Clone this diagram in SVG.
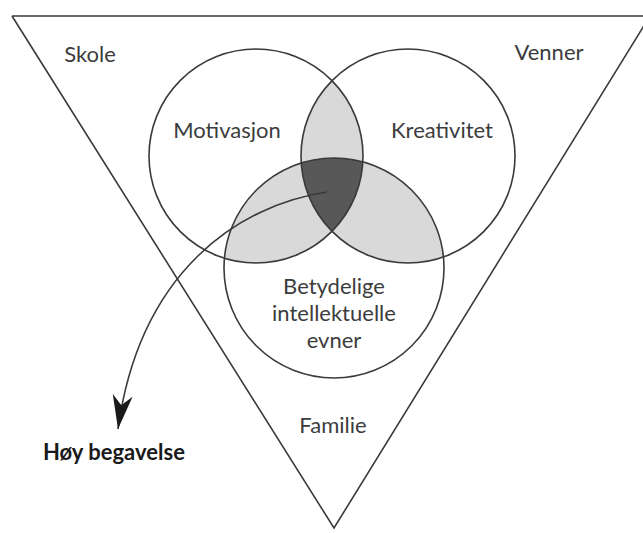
<svg xmlns="http://www.w3.org/2000/svg" width="643" height="533" viewBox="0 0 643 533">
<style>
.ln{fill:none;stroke:#3a3a3a;stroke-width:1.6}
.lbl{font-family:Lato,"Open Sans","Liberation Sans",sans-serif;font-size:22px;fill:#3c3c3c;text-anchor:middle}
.bold{font-family:Lato,"Open Sans","Liberation Sans",sans-serif;font-size:22px;font-weight:bold;fill:#1a1a1a}
.light{fill:#d9d9d9}
.dark{fill:#585858}
</style>
<defs>
<clipPath id="cA"><circle cx="256" cy="156" r="107"/></clipPath>
<clipPath id="cB"><circle cx="408" cy="156" r="107"/></clipPath>
<marker id="ah" viewBox="0 0 36 24" refX="34" refY="12" markerWidth="36" markerHeight="24" markerUnits="userSpaceOnUse" orient="auto">
<path d="M0,2 L10,12 L0,22 L34,12 Z" fill="#1a1a1a"/>
</marker>
</defs>
<rect width="643" height="533" fill="#ffffff"/>
<g id="triangle">
<path class="ln" d="M12,16 L650,16 M12,16 L334,528 L650,16"/>
</g>
<g id="shading">
<circle class="light" cx="408" cy="156" r="107" clip-path="url(#cA)"/>
<circle class="light" cx="334" cy="268" r="110" clip-path="url(#cA)"/>
<circle class="light" cx="334" cy="268" r="110" clip-path="url(#cB)"/>
<g clip-path="url(#cB)"><circle class="dark" cx="334" cy="268" r="110" clip-path="url(#cA)"/></g>
</g>
<g id="motivasjon">
<circle class="ln" cx="256" cy="156" r="107"/>
<text class="lbl" x="227" y="138">Motivasjon</text>
</g>
<g id="kreativitet">
<circle class="ln" cx="408" cy="156" r="107"/>
<text class="lbl" x="442" y="138">Kreativitet</text>
</g>
<g id="evner">
<circle class="ln" cx="334" cy="268" r="110"/>
<text class="lbl" x="334" y="294">Betydelige</text>
<text class="lbl" x="334" y="321">intellektuelle</text>
<text class="lbl" x="334" y="348">evner</text>
</g>
<g id="skole"><text class="lbl" x="90" y="62">Skole</text></g>
<g id="venner"><text class="lbl" x="549" y="60">Venner</text></g>
<g id="familie"><text class="lbl" x="333" y="433">Familie</text></g>
<g id="hoy-begavelse"><text class="bold" x="43" y="460">Høy begavelse</text></g>
<g id="connectors">
<path class="ln" d="M327,192 C240,205 140,270 118,429" marker-end="url(#ah)"/>
</g>
</svg>
